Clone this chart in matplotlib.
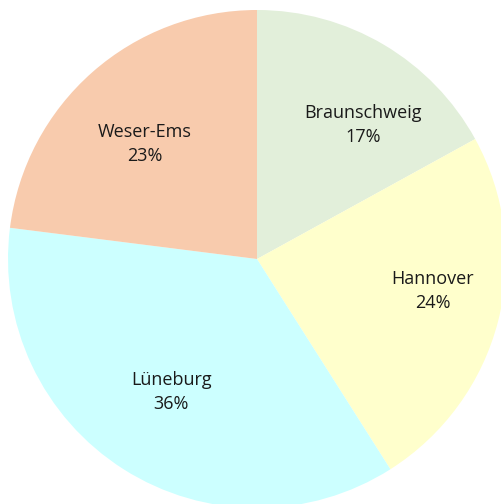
import matplotlib.pyplot as plt

regions = ['Braunschweig', 'Hannover', 'Lüneburg', 'Weser-Ems']
shares = [17, 24, 36, 23]
colors = ['#e2efda', '#ffffcc', '#ccffff', '#f8cbad']

# small nudges (pixels) so labels sit where Excel put them
nudges = [(20, -12), (12, 10), (5, 10), (0, -12)]

plt.rcParams['font.family'] = ['Open Sans', 'DejaVu Sans']

fig = plt.figure(figsize=(5.02, 5.04), dpi=100)
ax = fig.add_axes([0, 0, 1, 1])

labels = ['{}\n{}%'.format(r, s) for r, s in zip(regions, shares)]
wedges, texts = ax.pie(shares, labels=labels, colors=colors, startangle=90,
                       counterclock=False, center=(257, 245), radius=249,
                       labeldistance=0.68, frame=True,
                       textprops=dict(fontsize=13, color='#1a1a1a',
                                      linespacing=1.45))
for t, (dx, dy) in zip(texts, nudges):
    x, y = t.get_position()
    t.set_position((x + dx, y + dy))
    t.set_ha('center')
    t.set_va('center')
ax.set_xlim(0, 502)
ax.set_ylim(0, 504)
ax.set_aspect('equal')
ax.axis('off')

fig.savefig('out.png', dpi=100)
